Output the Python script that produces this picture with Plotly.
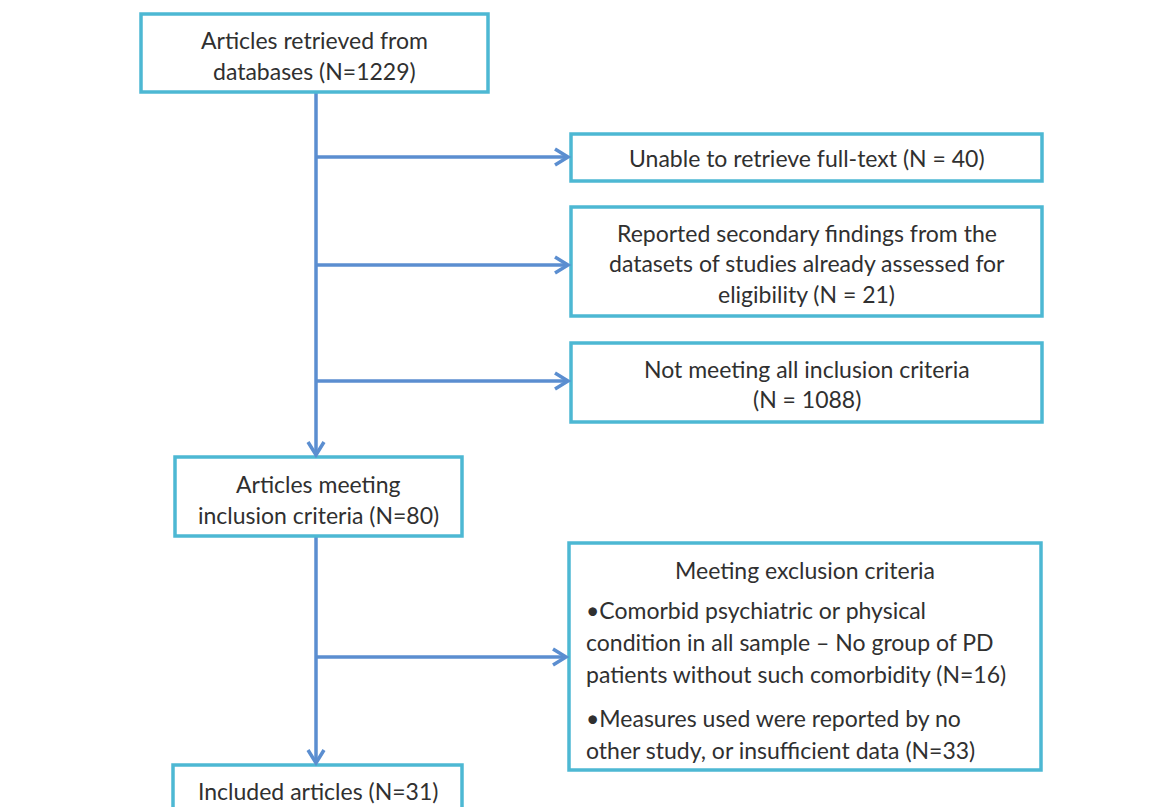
import plotly.graph_objects as go

# ---- content (data) ----
box_lines = [
    ["Articles retrieved from", "databases (N=1229)"],
    ["Unable to retrieve full-text (N = 40)"],
    ["Reported secondary findings from the", "datasets of studies already assessed for", "eligibility (N = 21)"],
    ["Not meeting all inclusion criteria", "(N = 1088)"],
    ["Articles meeting", "inclusion criteria (N=80)"],
    ["Meeting exclusion criteria"],
    ["Included articles (N=31)"],
]
bullet_lines = [
    "•Comorbid psychiatric or physical",
    "condition in all sample – No group of PD",
    "patients without such comorbidity (N=16)",
    "•Measures used were reported by no",
    "other study, or insufficient data (N=33)",
]

# ---- layout (positions in pixels of the page, y downwards) ----
boxes = [  # x0, y0, x1, y1
    (141, 14, 488, 92),
    (571, 134, 1042, 181),
    (571, 207, 1042, 316),
    (571, 343, 1042, 422),
    (175, 457, 462, 536),
    (569, 543, 1041, 770),
    (173, 765, 462, 830),
]
line_y = [
    [40, 71],
    [158],
    [233, 263, 294],
    [369, 399],
    [484, 515],
    [570],
    [791],
]
bullet_x = 584
bullet_y = [610, 642, 674, 718, 750]

spine_x = 316
vert_arrows = [(92, 455), (536, 763)]
horiz_arrows = [(157, 568), (265, 568), (381, 568), (657, 566)]

BORDER = "#4DB8D3"
ARROW = "#5B8ED0"
TEXT = "#303030"
FONT = "Lato"
FS = 23
OFF = 8  # browser default body margin

fig = go.Figure()
shapes = []
annotations = []

for (x0, y0, x1, y1) in boxes:
    shapes.append(dict(type="rect", x0=x0, y0=y0, x1=x1, y1=y1, xref="x", yref="y",
                       line=dict(color=BORDER, width=3.5), fillcolor="white", layer="above"))

def chevron(tx, ty, direction):
    L, W = 13, 8
    if direction == "right":
        p = f"M {tx-L},{ty-W} L {tx},{ty} L {tx-L},{ty+W}"
    else:
        p = f"M {tx-W},{ty-L} L {tx},{ty} L {tx+W},{ty-L}"
    return dict(type="path", path=p, xref="x", yref="y",
                line=dict(color=ARROW, width=3.5), layer="above")

for (y0, y1) in vert_arrows:
    shapes.append(dict(type="line", x0=spine_x, x1=spine_x, y0=y0, y1=y1, xref="x", yref="y",
                       line=dict(color=ARROW, width=3.5), layer="below"))
    shapes.append(chevron(spine_x, y1, "down"))
for (y, x1) in horiz_arrows:
    shapes.append(dict(type="line", x0=spine_x, x1=x1, y0=y, y1=y, xref="x", yref="y",
                       line=dict(color=ARROW, width=3.5), layer="below"))
    shapes.append(chevron(x1, y, "right"))

for (x0, y0, x1, y1), lines, ys in zip(boxes, box_lines, line_y):
    cx = (x0 + x1) / 2
    for t, y in zip(lines, ys):
        annotations.append(dict(x=cx, y=y, xref="x", yref="y", text=t, showarrow=False,
                                xanchor="center", yanchor="middle",
                                font=dict(family=FONT, size=FS, color=TEXT)))
for t, y in zip(bullet_lines, bullet_y):
    annotations.append(dict(x=bullet_x, y=y, xref="x", yref="y", text=t, showarrow=False,
                            xanchor="left", yanchor="middle",
                            font=dict(family=FONT, size=FS, color=TEXT)))

fig.update_layout(
    width=1165 - OFF, height=807 - OFF,
    margin=dict(l=0, r=0, t=0, b=0),
    paper_bgcolor="white", plot_bgcolor="white",
    xaxis=dict(range=[OFF, 1165], visible=False, fixedrange=True),
    yaxis=dict(range=[807, OFF], visible=False, fixedrange=True),
    shapes=shapes, annotations=annotations, showlegend=False,
)
fig.write_html("out.html")
